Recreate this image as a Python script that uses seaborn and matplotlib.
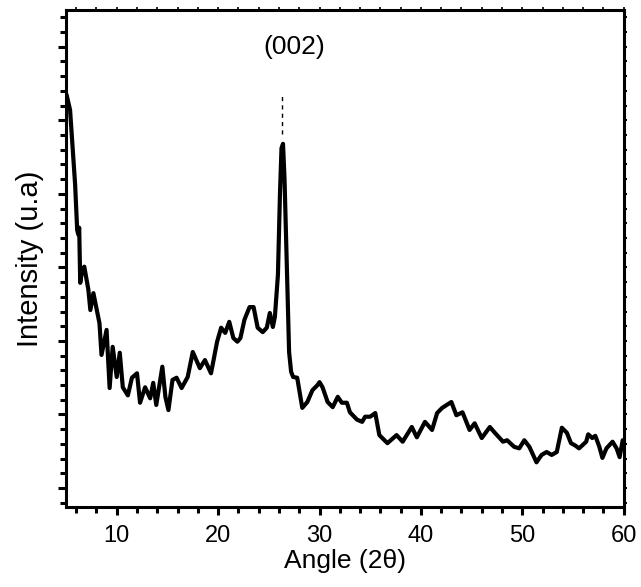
import numpy as np
import pandas as pd
import matplotlib
matplotlib.use("Agg")
import matplotlib.pyplot as plt
from matplotlib.ticker import MultipleLocator, NullFormatter
import seaborn as sns

# XRD pattern (angle in 2theta, intensity in arbitrary units)
angle = [5.05, 5.4, 5.9, 6.1, 6.2, 6.3, 6.4, 6.6, 6.8, 7.2, 7.4, 7.7, 8.3, 8.5, 9.0, 9.3,
         9.6, 10.0, 10.3, 10.6, 11.1, 11.5, 12.0, 12.3, 12.8, 13.3, 13.6, 13.9, 14.5,
         14.8, 15.1, 15.5, 15.9, 16.4, 17.0, 17.5, 18.2, 18.7, 19.3, 19.9, 20.3, 20.7,
         21.1, 21.5, 21.9, 22.2, 22.6, 23.1, 23.5, 23.9, 24.4, 24.8, 25.1, 25.4, 25.6,
         25.9, 26.1, 26.25, 26.4, 26.55, 26.8, 27.0, 27.2, 27.4, 27.8, 28.3, 28.8, 29.3, 29.8,
         30.0, 30.3, 30.8, 31.3, 31.8, 32.2, 32.7, 33.0, 33.7, 34.2, 34.5, 35.0, 35.5,
         35.9, 36.7, 37.6, 38.2, 39.1, 39.6, 40.4, 41.1, 41.6, 42.1, 43.0, 43.5, 44.1,
         44.8, 45.3, 46.0, 46.8, 47.3, 48.1, 48.5, 49.2, 49.7, 50.2, 50.7, 51.4, 51.9,
         52.4, 52.9, 53.4, 53.9, 54.4, 54.8, 55.2, 55.6, 56.3, 56.5, 56.9, 57.2, 57.6,
         57.9, 58.3, 58.9, 59.3, 59.6, 59.9]
intensity = [535, 514, 412, 351, 345, 354, 279, 297, 301, 270, 242, 265, 224, 181, 215, 136,
             192, 151, 184, 137, 126, 150, 156, 116, 137, 122, 143, 113, 165,
             124, 106, 147, 150, 136, 151, 185, 163, 174, 156, 199, 218, 211,
             226, 204, 199, 204, 229, 246, 246, 218, 212, 218, 238, 219, 233,
             290, 400, 462, 468, 420, 290, 185, 158, 151, 150, 109, 117, 133, 140,
             144, 137, 117, 110, 124, 116, 116, 103, 93, 90, 97, 97, 102,
             72, 61, 72, 63, 83, 69, 90, 79, 102, 109, 117, 99, 103,
             79, 88, 68, 83, 75, 63, 65, 56, 54, 65, 56, 35, 45,
             49, 45, 49, 82, 75, 61, 58, 54, 63, 73, 68, 71, 56,
             41, 54, 63, 54, 42, 65]

peak_angle = 26.3
peak_label = "(002)"

df = pd.DataFrame({"angle": angle, "intensity": intensity})

sns.set_style("ticks")
plt.rcParams['font.family'] = ['Liberation Sans', 'DejaVu Sans']
plt.rcParams['text.color'] = 'black'
plt.rcParams['axes.labelcolor'] = 'black'
plt.rcParams['xtick.color'] = 'black'
plt.rcParams['ytick.color'] = 'black'
plt.rcParams['axes.edgecolor'] = 'black'

fig = plt.figure(figsize=(6.41, 5.87), dpi=100)
ax = fig.add_axes([0.103, 0.136, 0.870, 0.847])

sns.lineplot(data=df, x="angle", y="intensity", ax=ax, color="black", linewidth=3.0)

# dashed marker above the (002) reflection
ax.plot([peak_angle, peak_angle], [482, 535], color="black", linestyle=(0, (3, 3)), linewidth=1.0)
ax.text(27.5, 599, peak_label, ha="center", va="center", fontsize=19)

ax.set_xlim(5, 60)
ax.set_ylim(-26, 650)
ax.xaxis.set_major_locator(MultipleLocator(10))
ax.xaxis.set_minor_locator(MultipleLocator(2))
ax.yaxis.set_major_locator(MultipleLocator(100))
ax.yaxis.set_minor_locator(MultipleLocator(20))
ax.yaxis.set_major_formatter(NullFormatter())

for sp in ax.spines.values():
    sp.set_visible(True)
    sp.set_linewidth(2.2)

ax.tick_params(axis="both", which="major", direction="out", length=6, width=2.2,
               labelsize=17, pad=7)
ax.tick_params(axis="both", which="minor", direction="out", length=4, width=2.2)
ax.tick_params(axis="both", which="both", top=True, right=True)
# top and right ticks are only tiny stubs
for t in ax.xaxis.get_major_ticks() + ax.xaxis.get_minor_ticks():
    t.tick2line.set_markersize(2)
    t.tick2line.set_markeredgewidth(1.2)
    t.tick2line.set_marker(2)
for t in ax.yaxis.get_major_ticks() + ax.yaxis.get_minor_ticks():
    t.tick2line.set_markersize(2)
    t.tick2line.set_markeredgewidth(1.5)
    t.tick2line.set_marker(1)

ax.set_xlabel("Angle (2θ)", fontsize=19, labelpad=1)
ax.set_ylabel("Intensity (u.a)", fontsize=21, labelpad=3)

fig.savefig("out.png", dpi=100)
